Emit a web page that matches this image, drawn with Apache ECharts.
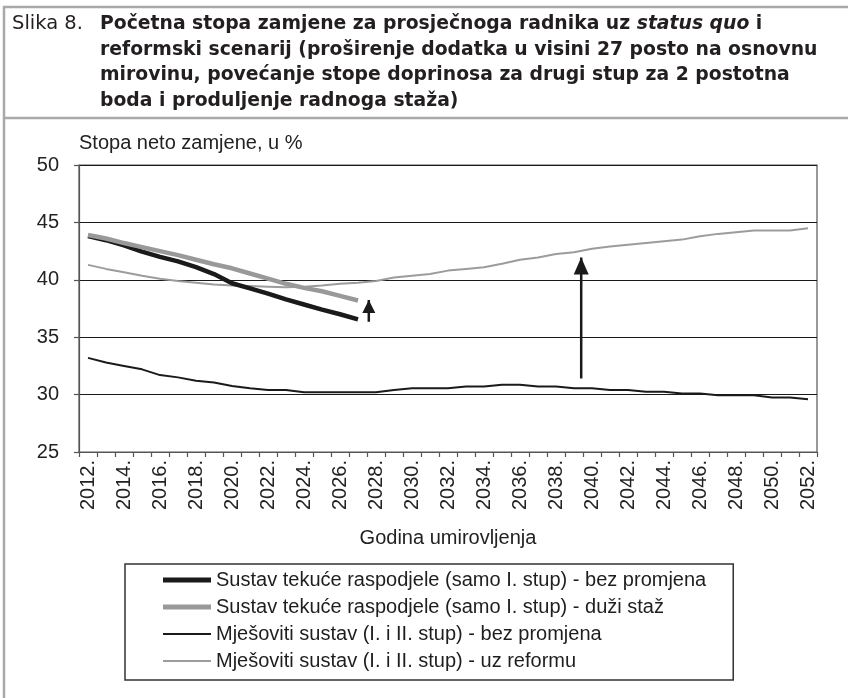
<!DOCTYPE html>
<html>
<head>
<meta charset="utf-8">
<script src="https://cdn.jsdelivr.net/npm/echarts@6/dist/echarts.min.js"></script>
<style>
  html, body { margin: 0; padding: 0; background: #ffffff; }
  #chart { width: 848px; height: 698px; }
</style>
</head>
<body>
<div id="chart"></div>
<script>
// Retirement years on the category axis
const years = [
  '2012.', '2013.', '2014.', '2015.', '2016.', '2017.', '2018.', '2019.', '2020.', '2021.',
  '2022.', '2023.', '2024.', '2025.', '2026.', '2027.', '2028.', '2029.', '2030.', '2031.',
  '2032.', '2033.', '2034.', '2035.', '2036.', '2037.', '2038.', '2039.', '2040.', '2041.',
  '2042.', '2043.', '2044.', '2045.', '2046.', '2047.', '2048.', '2049.', '2050.', '2051.',
  '2052.'
];

// Net replacement rate, % (pay-as-you-go series run 2012-2027)
const payGoNoChange = [43.8, 43.45, 43.0, 42.45, 42.0, 41.6, 41.1, 40.5, 39.7, 39.25,
  38.8, 38.3, 37.85, 37.4, 37.0, 36.55];
const payGoLonger = [43.9, 43.6, 43.2, 42.85, 42.5, 42.15, 41.75, 41.35, 41.0, 40.55,
  40.1, 39.65, 39.3, 39.0, 38.6, 38.2];
const mixedNoChange = [33.2, 32.8, 32.5, 32.2, 31.7, 31.5, 31.2, 31.05, 30.75, 30.55,
  30.4, 30.4, 30.2, 30.2, 30.2, 30.2, 30.2, 30.4, 30.55, 30.55,
  30.55, 30.7, 30.7, 30.85, 30.85, 30.7, 30.7, 30.55, 30.55, 30.4,
  30.4, 30.25, 30.25, 30.1, 30.1, 29.95, 29.95, 29.95, 29.75, 29.75,
  29.6];
const mixedReform = [41.3, 40.95, 40.65, 40.35, 40.1, 39.9, 39.75, 39.6, 39.5, 39.45,
  39.4, 39.35, 39.4, 39.5, 39.65, 39.75, 39.9, 40.2, 40.35, 40.5,
  40.8, 40.95, 41.1, 41.4, 41.75, 41.95, 42.25, 42.4, 42.7, 42.9,
  43.05, 43.2, 43.35, 43.5, 43.8, 44.0, 44.15, 44.3, 44.3, 44.3,
  44.5];

// Y axis range and step
const yMin = 25, yMax = 50, yStep = 5;

// Annotation arrows: position in years, start and tip values
const arrowYears = [2027.6, 2039.4];
const arrowFrom = [36.35, 31.4];
const arrowTo = [38.25, 41.95];

const seriesNames = [
  'Sustav tekuće raspodjele (samo I. stup) - bez promjena',
  'Sustav tekuće raspodjele (samo I. stup) - duži staž',
  'Mješoviti sustav (I. i II. stup) - bez promjena',
  'Mješoviti sustav (I. i II. stup) - uz reformu'
];

const titleLabel = 'Slika 8.';
const titleLine1 = ['Početna stopa zamjene za prosječnoga radnika uz ', 'status quo', ' i'];
const titleLine2 = 'reformski scenarij (proširenje dodatka u visini 27 posto na osnovnu';
const titleLine3 = 'mirovinu, povećanje stope doprinosa za drugi stup za 2 postotna';
const titleLine4 = 'boda i produljenje radnoga staža)';

const FONT = '"Liberation Sans", Arial, sans-serif';
const TITLE_FONT = '"DejaVu Sans", Verdana, sans-serif';

// size the bold heading so its longest line fills the box width
const measureCtx = document.createElement('canvas').getContext('2d');
function fitFontSize(text, family, weight, targetWidth) {
  measureCtx.font = weight + ' 100px ' + family;
  return 100 * targetWidth / measureCtx.measureText(text).width;
}
const boldSize = Math.round(fitFontSize(titleLine2, TITLE_FONT, 'bold', 717) * 10) / 10;
const labelSize = Math.round(fitFontSize(titleLabel, TITLE_FONT, 'normal', 71) * 10) / 10;

const titleColor = '#231f20';
const richTitle = {
  b: { fontFamily: TITLE_FONT, fontWeight: 'bold', fontSize: boldSize, fill: titleColor },
  i: { fontFamily: TITLE_FONT, fontWeight: 'bold', fontStyle: 'italic', fontSize: boldSize, fill: titleColor }
};
function titleText(x, y, text) {
  return {
    type: 'text', x: x, y: y, silent: true,
    style: { text: text, rich: richTitle, verticalAlign: 'middle', align: 'left', fill: titleColor,
      fontFamily: TITLE_FONT, fontWeight: 'bold', fontSize: boldSize }
  };
}
const frameStyle = { stroke: '#a9a9a9', lineWidth: 2.5 };

// flat bar icons for the legend: thick and thin line samples
const thickIcon = 'path://M0,0 L48,0 L48,5 L0,5 Z';
const thinIcon = 'path://M0,0 L48,0 L48,2 L0,2 Z';

function arrowSeries(i) {
  return {
    type: 'line',
    xAxisIndex: 1,
    silent: true,
    symbol: 'triangle',
    symbolSize: i === 0 ? [13, 13] : [15, 17],
    symbolOffset: [0, '50%'],
    itemStyle: { color: '#1a1a1a' },
    lineStyle: { color: '#1a1a1a', width: 2.5 },
    data: [
      { value: [arrowYears[i], arrowFrom[i]], symbol: 'none' },
      { value: [arrowYears[i], arrowTo[i]] }
    ],
    z: 5
  };
}

const chart = echarts.init(document.getElementById('chart'), null, { renderer: 'canvas' });
chart.setOption({
  animation: false,
  backgroundColor: '#ffffff',
  graphic: [
    { type: 'line', silent: true, shape: { x1: 3, y1: 7, x2: 848, y2: 7 }, style: frameStyle },
    { type: 'line', silent: true, shape: { x1: 4, y1: 6, x2: 4, y2: 698 }, style: frameStyle },
    { type: 'line', silent: true, shape: { x1: 3, y1: 118, x2: 848, y2: 118 }, style: frameStyle },
    {
      type: 'text', x: 12, y: 24, silent: true,
      style: { text: titleLabel, fontFamily: TITLE_FONT, fontSize: labelSize, fill: titleColor,
        verticalAlign: 'middle', align: 'left' }
    },
    titleText(100, 24, '{b|' + titleLine1[0] + '}{i|' + titleLine1[1] + '}{b|' + titleLine1[2] + '}'),
    titleText(100, 50, '{b|' + titleLine2 + '}'),
    titleText(100, 75.5, '{b|' + titleLine3 + '}'),
    titleText(100, 101, '{b|' + titleLine4 + '}')
  ],
  grid: {
    left: 79, right: 31, top: 165, bottom: 246,
    show: true, borderColor: '#555555', borderWidth: 1.2, backgroundColor: 'transparent'
  },
  legend: {
    orient: 'vertical',
    left: 125, top: 564,
    data: [
      { name: seriesNames[0], icon: thickIcon },
      { name: seriesNames[1], icon: thickIcon },
      { name: seriesNames[2], icon: thinIcon },
      { name: seriesNames[3], icon: thinIcon }
    ],
    itemWidth: 48, itemHeight: 14, itemGap: 7,
    symbolKeepAspect: true,
    padding: [6, 27, 9, 38],
    borderColor: '#333333', borderWidth: 1.5,
    selectedMode: false,
    textStyle: { fontFamily: FONT, fontSize: 20, color: '#1e1e1e', lineHeight: 20 }
  },
  xAxis: [
    {
      type: 'category',
      data: years,
      boundaryGap: true,
      name: 'Godina umirovljenja',
      nameLocation: 'middle',
      nameGap: 86,
      nameTextStyle: { fontFamily: FONT, fontSize: 20, color: '#222222', verticalAlign: 'middle' },
      axisLine: { lineStyle: { color: '#555555', width: 1.2 } },
      axisTick: { show: true, interval: 0, length: 5, lineStyle: { color: '#555555', width: 1.2 } },
      axisLabel: { interval: 1, rotate: 90, margin: 8, fontFamily: FONT, fontSize: 20, color: '#222222' },
      splitLine: { show: false }
    },
    {
      type: 'value',
      min: 2011.5, max: 2052.5,
      show: false
    }
  ],
  yAxis: {
    type: 'value',
    min: yMin, max: yMax, interval: yStep,
    name: 'Stopa neto zamjene, u %',
    nameLocation: 'end',
    nameGap: 22,
    nameTextStyle: { fontFamily: FONT, fontSize: 20, color: '#222222', align: 'left', verticalAlign: 'middle' },
    axisLine: { show: true, lineStyle: { color: '#555555', width: 1.2 } },
    axisTick: { show: true, length: 5, lineStyle: { color: '#555555', width: 1.2 } },
    axisLabel: { margin: 20, fontFamily: FONT, fontSize: 20, color: '#222222' },
    splitLine: { show: true, lineStyle: { color: '#1a1a1a', width: 1.2 } }
  },
  series: [
    {
      name: seriesNames[3], type: 'line', data: mixedReform, symbol: 'none',
      lineStyle: { color: '#9c9c9c', width: 2 }, itemStyle: { color: '#9c9c9c' }, z: 2
    },
    {
      name: seriesNames[2], type: 'line', data: mixedNoChange, symbol: 'none',
      lineStyle: { color: '#1a1a1a', width: 2 }, itemStyle: { color: '#1a1a1a' }, z: 2
    },
    {
      name: seriesNames[0], type: 'line', data: payGoNoChange, symbol: 'none',
      lineStyle: { color: '#1a1a1a', width: 4.5 }, itemStyle: { color: '#1a1a1a' }, z: 3
    },
    {
      name: seriesNames[1], type: 'line', data: payGoLonger, symbol: 'none',
      lineStyle: { color: '#999999', width: 4.5 }, itemStyle: { color: '#999999' }, z: 3
    },
    arrowSeries(0),
    arrowSeries(1)
  ]
});
</script>
</body>
</html>
